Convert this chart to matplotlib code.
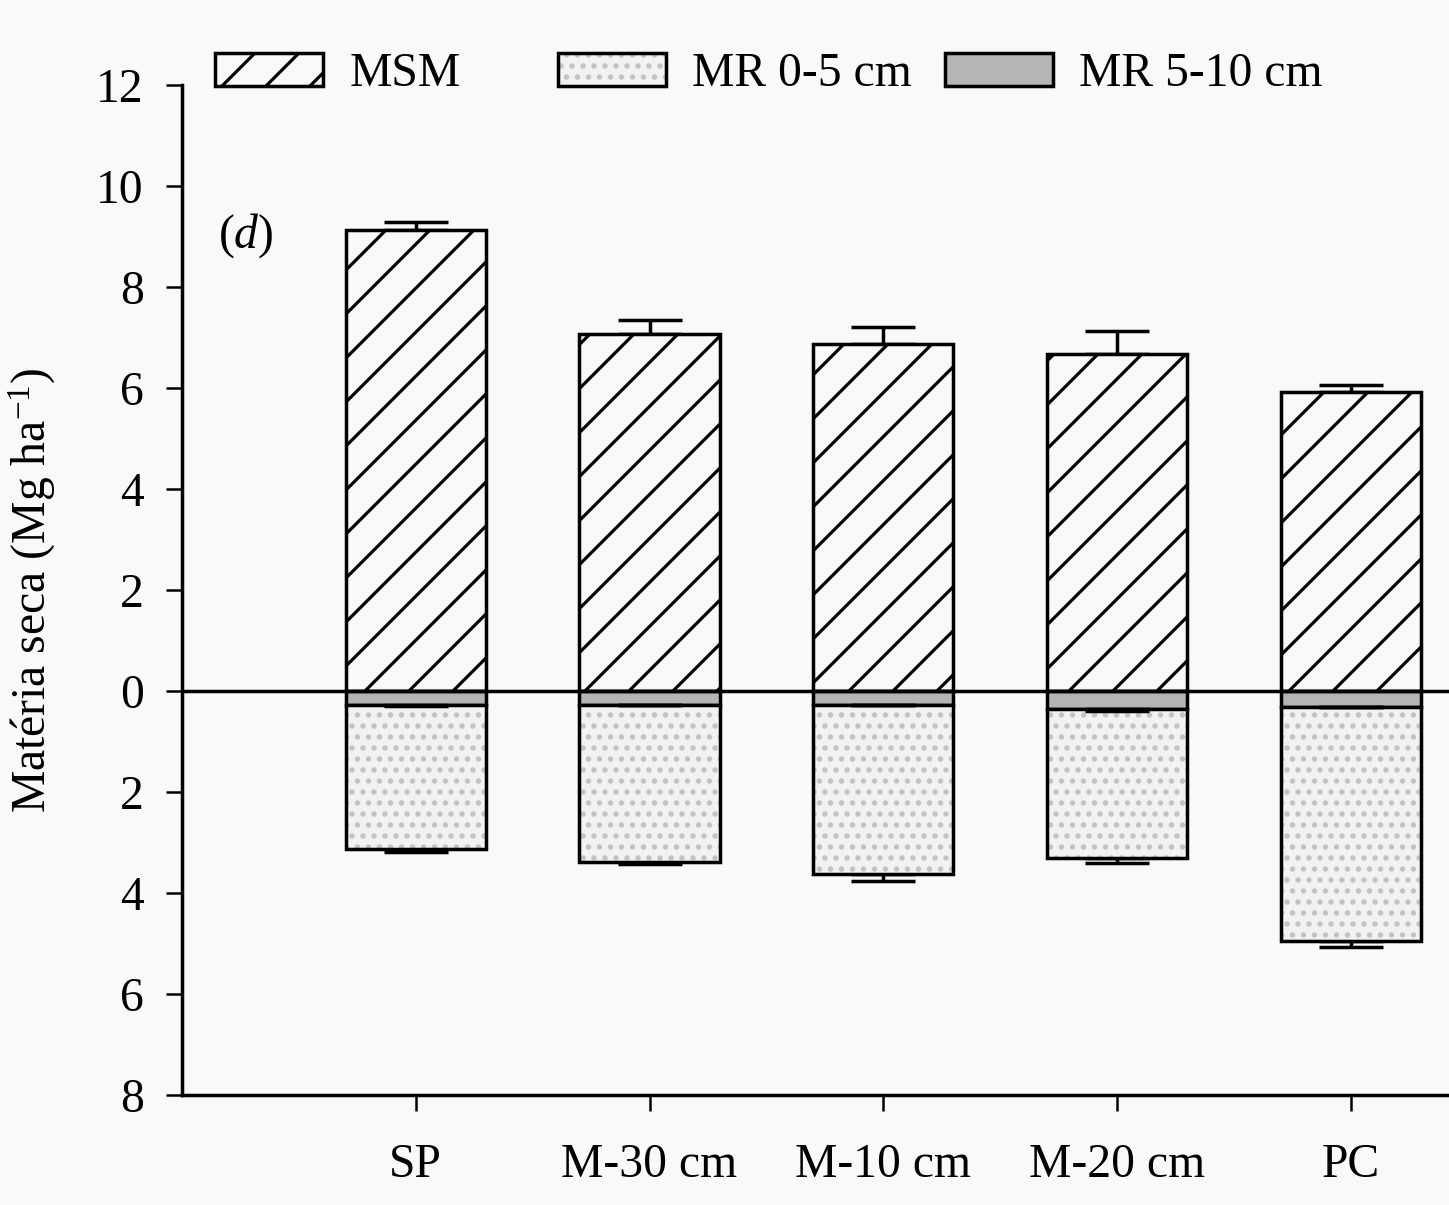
import numpy as np
import matplotlib
matplotlib.use("Agg")
import matplotlib.pyplot as plt
from matplotlib.patches import Patch

# data (Mg ha-1)
categories = ['SP', 'M-30 cm', 'M-10 cm', 'M-20 cm', 'PC']
msm = [9.13, 7.07, 6.87, 6.67, 5.92]
msm_err = [0.15, 0.28, 0.33, 0.45, 0.14]
mr_5_10 = [0.27, 0.27, 0.27, 0.35, 0.31]
mr_5_10_err = [0.03, 0.0, 0.0, 0.04, 0.0]
mr_0_5 = [2.86, 3.12, 3.35, 2.96, 4.64]
mr_0_5_err = [0.05, 0.04, 0.14, 0.10, 0.12]
yticks = [-8, -6, -4, -2, 0, 2, 4, 6, 8, 10, 12]

DPI = 132
PX = 72.0 / DPI  # points per pixel

plt.rcParams['font.family'] = ['Liberation Serif', 'DejaVu Serif']
plt.rcParams['mathtext.fontset'] = 'custom'
plt.rcParams['mathtext.rm'] = 'Liberation Serif'
plt.rcParams['mathtext.it'] = 'Liberation Serif:italic'
plt.rcParams['hatch.linewidth'] = 3.2 * PX

fs = 26
lw = 3.5 * PX
bg = '#f9f9f9'
gray = '#b5b5b5'
dots_bg = '#f2f2f2'
dots_fg = '#c4c4c4'

fig = plt.figure(figsize=(1449 / DPI, 1205 / DPI), dpi=DPI, facecolor=bg)
ax = fig.add_axes([182 / 1449, 1 - 1095 / 1205, 1 - 182 / 1449, (1095 - 85) / 1205])
ax.set_facecolor('none')

x = np.arange(len(categories))
width = 0.6
msm = np.array(msm)
mr_5_10 = np.array(mr_5_10)
mr_0_5 = np.array(mr_0_5)
cap = 32 * PX

# above zero: MSM
ax.bar(x, msm, width, facecolor=bg, edgecolor='black', linewidth=lw, hatch='/', zorder=2)
ax.errorbar(x, msm, yerr=[np.zeros(len(x)), msm_err], fmt='none', ecolor='black',
            elinewidth=lw, capsize=cap, capthick=lw, zorder=1)

# below zero: MR 5-10 then MR 0-5
ax.bar(x, -mr_5_10, width, facecolor=gray, edgecolor='black', linewidth=lw, zorder=2)
ax.bar(x, -mr_0_5, width, bottom=-mr_5_10, facecolor=dots_bg, edgecolor=dots_fg,
       linewidth=0, hatch='..', zorder=2)
ax.bar(x, -mr_0_5, width, bottom=-mr_5_10, facecolor='none', edgecolor='black',
       linewidth=lw, zorder=3)
ax.errorbar(x, -mr_5_10, yerr=[mr_5_10_err, np.zeros(len(x))], fmt='none', ecolor='black',
            elinewidth=lw, capsize=cap, capthick=lw, zorder=4)
ax.errorbar(x, -(mr_5_10 + mr_0_5), yerr=[mr_0_5_err, np.zeros(len(x))], fmt='none',
            ecolor='black', elinewidth=lw, capsize=cap, capthick=lw, zorder=1)

ax.axhline(0, color='black', linewidth=lw, zorder=5)

ax.set_xlim(-1.0, 4.42)
ax.set_ylim(-8, 12)
ax.set_yticks(yticks)
ax.set_yticklabels([str(abs(v)) for v in yticks])
ax.set_xticks(x)
ax.set_xticklabels(categories)
ax.tick_params(axis='both', direction='out', length=16 * PX, width=2.5 * PX, labelsize=fs)
ax.tick_params(axis='y', pad=22 * PX)
ax.tick_params(axis='x', pad=32 * PX)

for side in ['top', 'right']:
    ax.spines[side].set_visible(False)
for side in ['left', 'bottom']:
    ax.spines[side].set_linewidth(lw)

ax.set_ylabel('Matéria seca (Mg ha$^{-1}$)', fontsize=26)
ax.yaxis.set_label_coords(-0.098, 0.5)

ax.text(0.0505, 0.851, '($d$)', transform=ax.transAxes, fontsize=26, ha='center', va='center')

# legend: three entries at fixed places along the top
msm_handle = Patch(facecolor=bg, edgecolor='black', linewidth=lw, hatch='/')
mr05_handle = (Patch(facecolor=dots_bg, edgecolor=dots_fg, linewidth=0, hatch='..'),
               Patch(facecolor='none', edgecolor='black', linewidth=lw))
mr510_handle = Patch(facecolor=gray, edgecolor='black', linewidth=lw)
entries = [
    (msm_handle, 'MSM', 215),
    (mr05_handle, 'MR 0-5 cm', 558),
    (mr510_handle, 'MR 5-10 cm', 945),
]
for handle, label, xpos in entries:
    fig.legend([handle], [label], loc='upper left',
               bbox_to_anchor=(xpos / 1449, 1 - 52 / 1205),
               frameon=False, fontsize=fs, borderpad=0, borderaxespad=0,
               handlelength=2.27, handleheight=0.7, handletextpad=0.55)

fig.savefig('out.png', dpi=DPI, facecolor=bg)
